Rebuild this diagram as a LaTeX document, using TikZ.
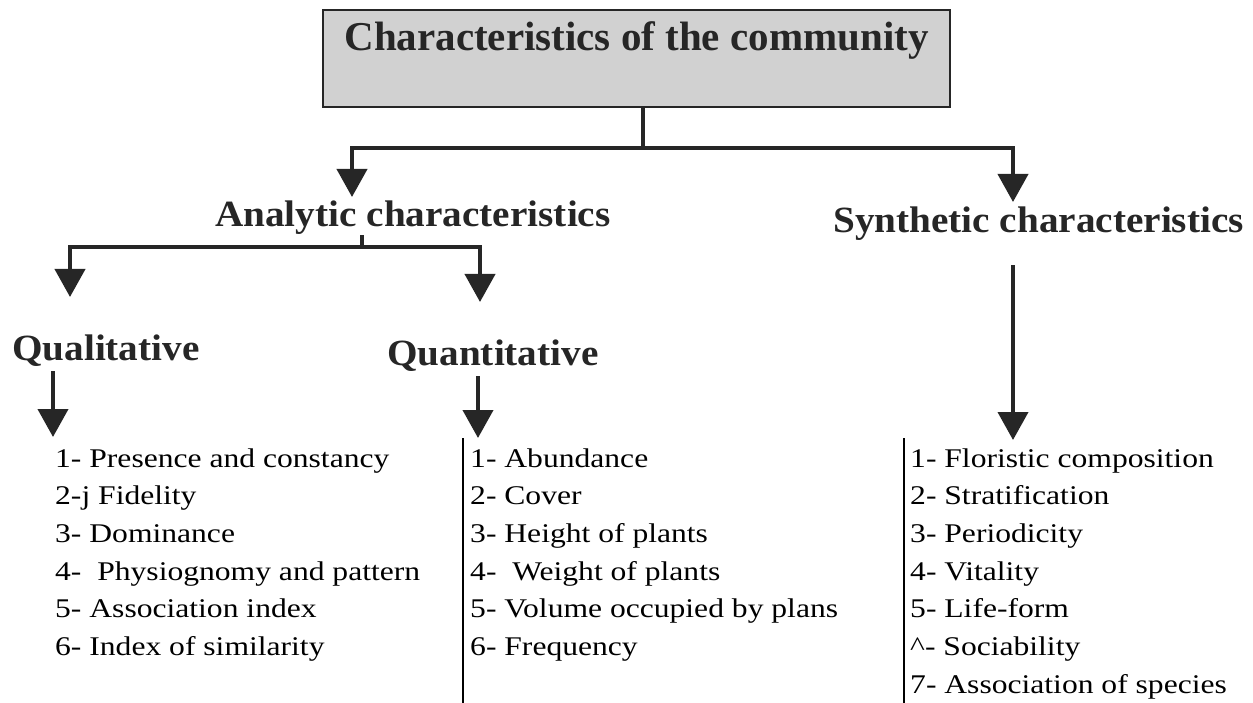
\documentclass[tikz,border=0pt]{standalone}
\usepackage{fontspec}
\setmainfont{Liberation Serif}
\newfontfamily\headfont[FakeStretch=1.06]{Liberation Serif}
\newfontfamily\listfont[FakeStretch=1.17]{Liberation Serif}
\usetikzlibrary{arrows.meta}
\definecolor{ink}{HTML}{262626}
\begin{document}
\begin{tikzpicture}[x=1pt,y=-1pt,
  titlebox/.style={draw=ink, line width=1.2pt, fill=black!18, minimum width=627pt, minimum height=97pt,
    inner sep=0pt, text height=32pt, text depth=48pt, font=\fontsize{41}{41}\selectfont\bfseries, text=ink},
  head/.style={anchor=base west, inner sep=0pt, font=\headfont\fontsize{37}{37}\selectfont\bfseries, text=ink},
  item/.style={anchor=base west, inner sep=0pt, font=\listfont\fontsize{27}{30}\selectfont},
  conn/.style={draw=ink, line width=4pt},
  arr/.style={conn, -{Triangle[width=30pt,length=28pt]}},
  rulebar/.style={draw=black, line width=1.8pt}]
\useasboundingbox (0,0) rectangle (1253,703);

% title
\node[titlebox] (title) at (636.5,58.5) {Characteristics of the community};

% headings
\node[head] (analytic) at (215,227) {Analytic characteristics};
\node[head] (synthetic) at (833,233) {Synthetic characteristics};
\node[head] (qual) at (12,360) {Qualitative};
\node[head] (quant) at (387,365) {Quantitative};

% junctions and arrow tips
\coordinate (j1) at (643,148);
\coordinate (tA) at (352,197);
\coordinate (tS) at (1013,202);
\coordinate (j2) at (362,247);
\coordinate (tQl) at (70,297);
\coordinate (tQn) at (480,302);
\coordinate (tL1) at (53,437);
\coordinate (tL2) at (478,438);
\coordinate (tL3) at (1013,440);

\draw[conn] (title.south -| j1) -- (j1);
\draw[arr] (j1) -| (tA);
\draw[arr] (j1) -| (tS);
\draw[conn] (analytic.south -| j2) -- (j2);
\draw[arr] (j2) -| (tQl);
\draw[arr] (j2) -| (tQn);
\draw[arr, shorten <=5pt] (qual.south -| tL1) -- (tL1);
\draw[arr, shorten <=5pt] (quant.south -| tL2) -- (tL2);
\draw[arr, shorten <=24pt] (synthetic.south -| tL3) -- (tL3);

% lists
\foreach [count=\i] \t in {1- Presence and constancy, 2-j Fidelity, 3- Dominance,
  4- \ Physiognomy and pattern, 5- Association index, 6- Index of similarity}
  \node[item] (a\i) at (55,{467+37.67*(\i-1)}) {\t};
\foreach [count=\i] \t in {1- Abundance, 2- Cover, 3- Height of plants,
  4- \ Weight of plants, 5- Volume occupied by plans, 6- Frequency}
  \node[item] (b\i) at (470,{467+37.67*(\i-1)}) {\t};
\foreach [count=\i] \t in {1- Floristic composition, 2- Stratification, 3- Periodicity,
  4- Vitality, 5- Life-form, \textasciicircum- Sociability, 7- Association of species}
  \node[item] (c\i) at (910,{467+37.67*(\i-1)}) {\t};

% separator rules
\coordinate (r2) at (463,438);
\coordinate (r3) at (904,438);
\draw[rulebar] (r2) -- (r2 |- 0,703);
\draw[rulebar] (r3) -- (r3 |- 0,703);
\end{tikzpicture}
\end{document}
